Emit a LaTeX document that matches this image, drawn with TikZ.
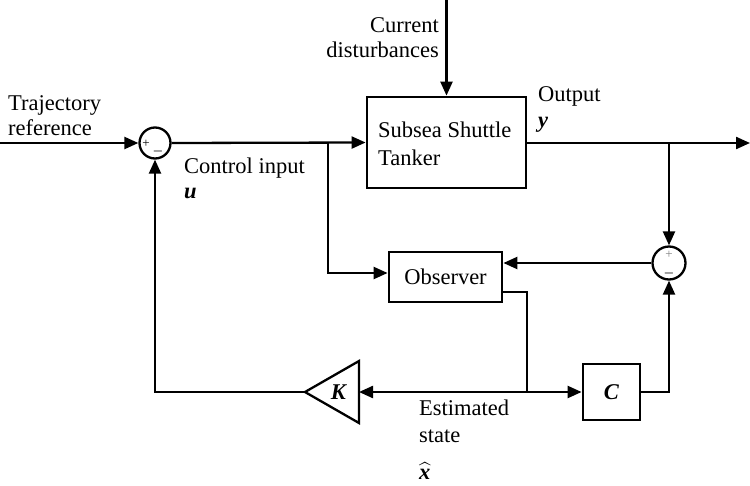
\documentclass[tikz,border=0pt]{standalone}
\usepackage{amsmath}
\usepackage{fontspec}
\setmainfont{Liberation Serif}
\usetikzlibrary{arrows.meta}

\newcommand{\bivec}[1]{\textbf{\textit{#1}}}

\begin{document}
\begin{tikzpicture}[x=1pt,y=-1pt,line width=2.3pt,
  >={Triangle[length=14pt,width=12pt]},
  font=\fontsize{22.5}{25}\selectfont,
  block/.style={draw,line width=2.8pt,inner sep=0pt},
  sumc/.style={draw,circle,minimum size=31pt,inner sep=0pt},
  sgn/.style={inner sep=0pt,font=\fontsize{13}{13}\selectfont},
  lbl/.style={inner sep=0pt,anchor=base west,align=left}]
\useasboundingbox (0,0) rectangle (750,485);
% blocks
\node[sumc] (s1) at (155,143) {};
\node[sumc,minimum size=33pt] (s2) at (669,263) {};
\node[block,minimum width=159pt,minimum height=91pt] (plant) at (446.5,142.5) {};
\node[lbl,font=\fontsize{22.5}{28}\selectfont] (planttxt) at (377,165) {Subsea Shuttle\\Tanker};
\node[block,minimum width=113pt,minimum height=50pt] (obs) at (445.5,277) {Observer};
\node[block,minimum width=57pt,minimum height=56pt] (cbox) at (611.5,392) {\bivec{C}};
\coordinate (ktip) at (305,392);
\coordinate (kin) at (359,392);
\draw (ktip) -- (359,361) -- (359,423) -- cycle;
\node (gain) at (339,392) {\bivec{K}};
% signs
\node[sgn] at (146,144) {+};
\node[sgn] at (158,151) {$\boldsymbol{-}$};
\node[sgn,text=gray] at (669,255) {+};
\node[sgn] at (669,273) {$\boldsymbol{-}$};
% branch points
\coordinate (ref) at (0,143);
\coordinate (dist) at (446.5,0);
\coordinate (ub) at (328,143);
\coordinate (yb) at (669,143);
\coordinate (out) at (750,143);
\coordinate (xb) at (527,392);
% connectors
\draw[->] (ref) -- (s1.west);
\draw[->] (s1.east) -- (plant.west);
\draw[->] (dist) -- (plant.north);
\draw[->] (plant.east |- out) -- (out);
\draw[->] (yb) -- (s2.north);
\draw[->] (s2.west) -- (obs.east |- s2.west);
\draw[->] (ub) |- ([yshift=4pt]obs.west);
\draw ([yshift=-15pt]obs.east) -| (xb);
\draw[->] (xb) -- (cbox.west);
\draw[->] (cbox.east) -| (s2.south);
\draw[->] (xb) -- (kin);
\draw[->] (ktip) -| (s1.south);
% labels
\node[lbl] (trajtxt) at (7,135) {Trajectory\\reference};
\node[inner sep=0pt,anchor=base east,align=right] (disttxt) at (440,57) {Current\\disturbances};
\node[lbl] (utxt) at (183,198) {Control input\\\bivec{u}};
\node[lbl,font=\fontsize{22.5}{26}\selectfont] (ytxt) at (537,127) {Output\\\bivec{y}};
\node[lbl,font=\fontsize{22.5}{27}\selectfont] (xtxt) at (418,479) {Estimated\\state\\[10pt]$\widehat{\text{\bivec{x}}}$};
\end{tikzpicture}
\end{document}
